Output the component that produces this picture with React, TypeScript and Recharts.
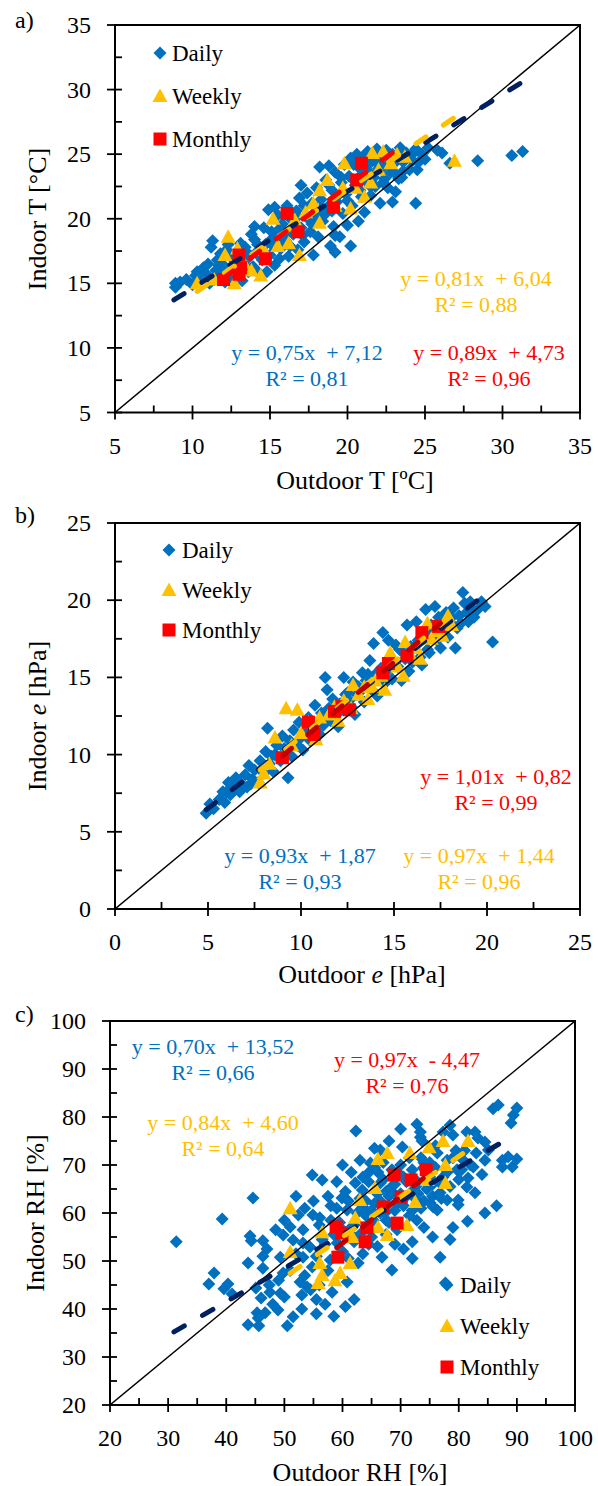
import React from 'react';
import { ScatterChart, Scatter, XAxis, YAxis, ReferenceArea } from 'recharts';

const FONT = '"Liberation Serif", "Times New Roman", serif';
const DAILY = '#0070C0';
const WEEKLY = '#FFC000';
const MONTHLY = '#FF0000';
const NAVY = '#002060';

type Pt = [number, number];

// ---------- a) temperature ----------
const ticksT = [5, 7.5, 10, 12.5, 15, 17.5, 20, 22.5, 25, 27.5, 30, 32.5, 35];
const majorT = [5, 10, 15, 20, 25, 30, 35];

const dailyT: Pt[] = [
  [8.9, 14.7], [8.9, 15.0], [9.2, 15.1], [9.6, 15.3], [10.0, 14.9], [10.2, 15.6], [10.3, 15.9], [10.5, 15.2],
  [10.7, 16.2], [10.9, 15.7], [11.0, 16.5], [11.1, 15.0], [11.2, 17.8], [11.3, 18.3], [11.4, 15.3], [11.5, 16.0],
  [11.6, 16.8], [11.7, 16.4], [11.8, 17.3], [11.9, 15.8], [12.0, 16.4], [12.1, 15.1], [12.2, 17.6], [12.3, 18.0],
  [12.4, 15.4], [12.5, 17.0], [12.6, 16.9], [12.7, 16.1], [12.8, 16.5], [12.9, 17.4], [13.0, 15.6], [13.1, 18.1],
  [13.2, 15.2], [13.2, 16.9], [13.3, 16.6], [13.4, 17.8], [13.5, 17.4], [13.6, 15.9], [13.7, 17.1], [13.8, 18.8],
  [13.9, 16.3], [14.0, 18.4], [14.0, 19.4], [14.1, 16.0], [14.2, 17.5], [14.2, 18.0], [14.3, 15.8], [14.4, 17.0],
  [14.5, 16.8], [14.6, 19.3], [14.7, 18.0], [14.8, 15.9], [14.9, 20.7], [15.0, 17.2], [15.0, 18.3], [15.1, 19.0],
  [15.2, 17.9], [15.3, 16.4], [15.3, 20.9], [15.4, 18.5], [15.5, 20.3], [15.6, 16.9], [15.6, 19.2], [15.7, 17.7],
  [15.8, 19.6], [15.9, 18.9], [16.0, 18.3], [16.0, 20.4], [16.1, 21.0], [16.2, 17.1], [16.2, 19.0], [16.3, 17.9],
  [16.4, 19.9], [16.5, 18.8], [16.6, 19.3], [16.7, 20.6], [16.8, 17.6], [16.8, 20.2], [16.9, 21.6], [17.0, 19.3],
  [17.0, 22.6], [17.1, 18.7], [17.2, 18.2], [17.2, 21.0], [17.3, 20.2], [17.4, 22.0], [17.5, 20.0], [17.6, 19.0],
  [17.7, 21.2], [17.7, 19.6], [17.8, 17.2], [17.9, 20.5], [18.0, 22.4], [18.0, 19.9], [18.1, 18.6], [18.2, 24.0],
  [18.3, 21.5], [18.3, 20.8], [18.4, 19.8], [18.5, 20.3], [18.6, 23.0], [18.7, 20.9], [18.8, 24.1], [18.8, 22.6],
  [18.9, 17.9], [19.0, 22.2], [19.0, 20.6], [19.1, 19.4], [19.1, 21.0], [19.2, 23.6], [19.2, 17.4], [19.2, 18.7],
  [19.3, 21.3], [19.4, 21.8], [19.5, 18.6], [19.6, 22.8], [19.6, 23.2], [19.7, 20.4], [19.8, 24.2], [19.9, 21.9],
  [20.0, 19.5], [20.0, 21.4], [20.1, 23.3], [20.2, 24.7], [20.2, 17.9], [20.3, 21.0], [20.4, 23.0], [20.4, 24.2],
  [20.5, 22.6], [20.6, 25.0], [20.7, 19.8], [20.8, 23.9], [20.8, 22.2], [20.9, 21.7], [20.9, 23.4], [21.0, 24.8],
  [21.1, 20.5], [21.2, 22.9], [21.2, 24.0], [21.3, 25.2], [21.4, 23.6], [21.5, 21.8], [21.5, 22.5], [21.6, 24.5],
  [21.7, 23.2], [21.8, 22.5], [21.9, 25.4], [21.9, 24.3], [22.0, 23.9], [22.1, 21.2], [22.2, 24.9], [22.3, 24.0],
  [22.3, 22.8], [22.4, 23.1], [22.5, 25.3], [22.6, 22.4], [22.7, 24.3], [22.7, 25.0], [22.8, 23.6], [22.9, 21.3],
  [22.9, 25.0], [23.0, 23.6], [23.1, 22.1], [23.1, 24.4], [23.2, 24.8], [23.3, 23.1], [23.4, 25.5], [23.5, 23.2],
  [23.6, 24.4], [23.6, 23.7], [23.8, 25.1], [24.0, 23.8], [24.1, 24.9], [24.2, 24.5], [24.4, 21.2], [24.4, 25.4],
  [24.5, 23.8], [24.6, 24.4], [24.8, 25.0], [25.0, 24.6], [25.2, 25.5], [25.8, 25.3], [26.1, 25.1], [26.6, 24.3],
  [28.4, 24.5], [30.6, 24.9], [31.3, 25.2],
];
const weeklyT: Pt[] = [
  [10.3, 15.0], [11.4, 15.3], [12.1, 17.2], [12.3, 18.6], [12.7, 15.0], [12.9, 17.7], [13.3, 16.6], [13.8, 16.0],
  [14.4, 15.6], [14.6, 17.6], [15.2, 20.0], [15.5, 17.9], [16.2, 18.1], [16.6, 19.9], [16.9, 17.2], [17.3, 20.5],
  [17.8, 21.2], [18.2, 22.2], [18.2, 19.7], [18.7, 23.0], [19.2, 21.0], [19.7, 22.4], [19.8, 24.3], [20.2, 20.8],
  [20.5, 22.4], [21.1, 21.7], [21.5, 22.8], [21.6, 25.1], [22.0, 23.8], [22.3, 25.2], [22.8, 24.3], [23.2, 25.0],
  [23.7, 24.8], [26.9, 24.5],
];
const monthlyT: Pt[] = [
  [12.0, 15.3], [13.0, 15.7], [13.1, 16.2], [13.0, 17.2], [14.7, 16.9], [16.1, 20.4], [16.8, 19.0], [19.1, 20.9],
  [20.6, 23.0], [20.9, 24.3],
];
// slope, intercept, x range
const fitsT = [
  { slope: 0.75, intercept: 7.12, from: 8.8, to: 31.5, color: NAVY },
  { slope: 0.81, intercept: 6.04, from: 10.3, to: 27.6, color: WEEKLY },
  { slope: 0.89, intercept: 4.73, from: 12.0, to: 23.7, color: MONTHLY },
];

// ---------- b) vapour pressure ----------
const ticksE = [0, 2.5, 5, 7.5, 10, 12.5, 15, 17.5, 20, 22.5, 25];
const majorE = [0, 5, 10, 15, 20, 25];

const dailyE: Pt[] = [
  [4.9, 6.2], [5.1, 6.8], [5.3, 6.5], [5.6, 7.1], [5.8, 7.6], [5.9, 6.9], [6.0, 7.6], [6.1, 8.2], [6.2, 7.4],
  [6.4, 7.9], [6.5, 8.5], [6.7, 7.6], [6.8, 8.1], [7.0, 8.7], [7.1, 7.9], [7.2, 9.3], [7.3, 8.1], [7.4, 8.4],
  [7.5, 9.0], [7.7, 8.2], [7.8, 9.6], [8.0, 8.8], [8.1, 10.2], [8.2, 11.7], [8.3, 9.4], [8.4, 9.9], [8.5, 8.9],
  [8.6, 10.0], [8.7, 10.6], [8.9, 9.6], [9.0, 11.2], [9.1, 10.4], [9.2, 10.0], [9.3, 8.5], [9.4, 10.9], [9.5, 9.9],
  [9.6, 11.6], [9.8, 10.6], [9.9, 12.1], [10.0, 11.1], [10.1, 10.3], [10.2, 11.5], [10.3, 11.8], [10.4, 12.4],
  [10.5, 10.9], [10.6, 11.4], [10.75, 13.2], [10.8, 12.0], [11.0, 11.3], [11.0, 12.2], [11.1, 12.7], [11.2, 11.9],
  [11.3, 15.0], [11.3, 12.4], [11.4, 14.2], [11.5, 13.0], [11.6, 12.2], [11.7, 13.6], [11.9, 12.6], [12.0, 11.8],
  [12.1, 13.3], [12.2, 12.9], [12.3, 15.0], [12.4, 12.9], [12.4, 13.9], [12.5, 14.0], [12.6, 13.5], [12.7, 13.1],
  [12.8, 14.7], [12.9, 12.6], [13.0, 13.9], [13.1, 14.4], [13.2, 14.1], [13.3, 15.3], [13.4, 13.4], [13.5, 14.8],
  [13.6, 15.2], [13.7, 16.1], [13.8, 14.2], [13.9, 17.2], [14.0, 15.2], [14.1, 13.8], [14.2, 14.9], [14.3, 15.6],
  [14.4, 17.9], [14.5, 14.6], [14.6, 15.4], [14.7, 17.4], [14.8, 16.0], [14.9, 14.9], [15.0, 15.9], [15.1, 17.1],
  [15.2, 15.7], [15.3, 16.8], [15.4, 14.8], [15.5, 16.6], [15.6, 16.2], [15.7, 18.4], [15.8, 15.4], [15.9, 17.0],
  [16.0, 16.0], [16.1, 17.0], [16.2, 18.6], [16.3, 17.4], [16.4, 16.3], [16.5, 15.8], [16.6, 17.9], [16.7, 19.4],
  [16.8, 16.8], [16.9, 16.6], [17.0, 18.4], [17.0, 17.6], [17.1, 17.9], [17.2, 19.6], [17.3, 17.4], [17.4, 18.9],
  [17.5, 16.9], [17.7, 18.0], [17.8, 19.2], [17.9, 17.6], [18.0, 18.6], [18.1, 18.9], [18.2, 19.5], [18.3, 16.9],
  [18.4, 18.2], [18.5, 19.0], [18.6, 18.5], [18.7, 20.5], [18.8, 19.8], [18.9, 19.2], [19.0, 18.6], [19.1, 19.9],
  [19.2, 19.4], [19.3, 18.9], [19.5, 19.4], [19.7, 19.9], [19.9, 19.6], [20.3, 17.3],
];
const weeklyE: Pt[] = [
  [7.8, 8.2], [8.0, 8.8], [8.3, 9.4], [8.6, 11.1], [9.2, 13.0], [9.8, 12.9], [9.0, 9.9], [9.5, 10.6], [10.0, 11.4],
  [10.4, 12.1], [10.8, 11.0], [11.0, 12.4], [11.5, 12.6], [11.8, 13.1], [12.0, 12.2], [12.3, 13.5], [12.7, 13.0],
  [12.8, 14.5], [13.1, 13.9], [13.4, 14.4], [13.6, 13.6], [13.8, 14.4], [14.0, 14.8], [14.3, 15.1], [14.5, 14.2],
  [14.8, 16.6], [15.2, 15.7], [15.5, 15.1], [15.6, 17.3], [15.9, 16.4], [16.2, 16.9], [16.4, 16.2], [16.8, 18.5],
  [17.0, 17.5], [17.3, 18.0], [17.6, 17.7], [17.9, 19.0], [18.1, 18.4],
];
const monthlyE: Pt[] = [
  [9.0, 9.8], [10.4, 12.1], [10.7, 11.3], [11.8, 12.8], [12.2, 13.1], [12.6, 12.9], [14.4, 15.3], [14.7, 15.9],
  [15.7, 16.4], [16.5, 17.9], [17.4, 18.3],
];
const fitsE = [
  { slope: 0.93, intercept: 1.87, from: 4.9, to: 19.8, color: NAVY },
  { slope: 0.97, intercept: 1.44, from: 7.8, to: 18.1, color: WEEKLY },
  { slope: 1.01, intercept: 0.82, from: 9.0, to: 17.5, color: '#C00000' },
];

// ---------- c) relative humidity ----------
const ticksRH = [20, 25, 30, 35, 40, 45, 50, 55, 60, 65, 70, 75, 80, 85, 90, 95, 100];
const majorRH = [20, 30, 40, 50, 60, 70, 80, 90, 100];

const dailyRH: Pt[] = [
  [31.4, 54.0], [37.0, 45.2], [37.9, 47.5], [39.3, 58.75], [39.6, 44.2], [40.3, 45.2], [41.0, 43.1], [43.75, 36.7],
  [43.75, 49.6], [44.1, 55.2], [44.3, 54.2], [44.6, 63.1], [45.1, 44.4], [45.3, 39.2], [45.5, 38.1], [45.6, 36.5],
  [46.0, 42.3], [46.3, 54.2], [46.3, 51.0], [46.3, 48.5], [46.7, 39.2], [47.0, 52.5], [47.4, 45.0], [47.5, 43.5],
  [48.0, 41.0], [48.5, 56.5], [48.9, 39.8], [49.0, 46.0], [49.3, 43.3], [49.3, 50.8], [49.8, 55.4], [49.8, 47.5],
  [50.0, 42.5], [50.0, 58.5], [50.5, 36.5], [51.0, 57.1], [51.0, 48.0], [51.5, 54.4], [51.5, 38.4], [52.0, 51.5],
  [52.0, 63.5], [52.4, 59.6], [52.7, 45.6], [53.0, 42.9], [53.0, 40.0], [53.2, 56.5], [53.2, 53.75], [53.2, 50.8],
  [53.5, 61.0], [53.5, 47.0], [53.9, 44.6], [54.4, 52.9], [54.5, 44.0], [54.8, 67.9], [54.8, 48.75], [54.9, 59.6],
  [55.0, 62.5], [55.5, 39.0], [55.5, 51.0], [55.5, 42.0], [56.0, 57.5], [56.0, 45.0], [56.1, 59.0], [56.5, 66.9],
  [56.5, 54.5], [57.0, 41.0], [57.0, 53.5], [57.5, 63.5], [57.5, 48.0], [57.9, 50.2], [58.0, 61.5], [58.0, 58.5],
  [58.2, 43.5], [58.5, 38.5], [58.5, 55.5], [59.0, 66.5], [59.0, 61.0], [59.1, 53.75], [59.5, 58.0], [59.9, 63.1],
  [60.0, 52.0], [60.0, 70.0], [60.0, 56.5], [60.5, 40.5], [60.5, 64.5], [60.8, 60.6], [60.8, 45.6], [61.0, 50.5],
  [61.0, 62.5], [61.3, 55.8], [61.5, 57.0], [61.5, 68.5], [62.0, 42.0], [62.0, 54.0], [62.0, 57.5], [62.2, 66.25],
  [62.3, 77.1], [62.5, 60.0], [62.7, 49.6], [63.0, 63.0], [63.0, 71.0], [63.0, 55.5], [63.4, 64.8], [63.5, 61.25],
  [63.5, 51.5], [63.5, 67.5], [64.0, 59.5], [64.0, 62.5], [64.4, 68.3], [64.5, 66.5], [64.5, 53.5], [64.8, 70.4],
  [65.0, 55.0], [65.0, 60.5], [65.3, 58.5], [65.5, 62.0], [65.5, 73.5], [65.5, 69.5], [66.0, 64.0], [66.0, 53.0],
  [66.1, 68.5], [66.5, 73.1], [66.5, 66.25], [66.5, 60.0], [66.5, 62.5], [66.8, 50.8], [67.0, 67.0], [67.0, 70.5],
  [67.3, 60.0], [67.5, 58.5], [67.5, 55.5], [67.5, 64.5], [68.0, 63.5], [68.0, 75.0], [68.0, 58.0], [68.5, 65.5],
  [68.5, 48.1], [68.5, 69.0], [69.0, 60.5], [69.0, 53.5], [69.0, 66.0], [69.1, 63.75], [69.4, 56.5], [69.5, 68.5],
  [69.5, 62.0], [70.0, 64.0], [70.0, 77.5], [70.0, 70.0], [70.3, 73.75], [70.5, 61.5], [70.5, 52.5], [70.5, 67.5],
  [71.0, 66.5], [71.0, 63.5], [71.5, 59.5], [71.5, 71.5], [72.0, 69.0], [72.0, 54.0], [72.0, 50.5], [72.0, 60.5],
  [72.2, 64.8], [72.5, 63.0], [72.5, 67.0], [72.8, 78.5], [72.8, 58.5], [73.0, 66.0], [73.0, 64.0], [73.4, 76.9],
  [73.4, 75.8], [73.5, 61.0], [73.5, 71.5], [73.7, 75.0], [73.9, 69.4], [74.0, 70.5], [74.0, 57.0], [74.0, 62.5],
  [74.5, 65.0], [74.5, 68.0], [75.0, 67.5], [75.0, 70.5], [75.1, 62.1], [75.5, 63.5], [75.5, 55.0], [75.5, 66.0],
  [75.6, 61.25], [76.0, 69.5], [76.0, 74.0], [76.3, 72.5], [76.3, 60.6], [76.8, 64.2], [76.8, 50.8], [77.0, 66.0],
  [77.0, 63.0], [77.3, 76.9], [77.3, 67.5], [77.7, 45.4], [78.0, 68.5], [78.0, 62.7], [78.0, 71.0], [78.5, 78.3],
  [78.5, 54.5], [78.5, 65.5], [79.0, 76.25], [79.0, 71.5], [79.0, 57.0], [79.5, 73.0], [79.7, 69.0], [79.9, 62.7],
  [79.9, 61.7], [80.0, 67.0], [80.5, 69.0], [80.8, 71.0], [81.0, 73.0], [81.4, 76.9], [81.4, 65.4], [81.5, 58.3],
  [81.6, 67.3], [82.0, 70.0], [82.5, 69.6], [82.8, 76.9], [82.8, 64.2], [83.0, 72.5], [83.3, 75.6], [84.0, 68.0],
  [84.5, 74.8], [84.5, 71.0], [84.5, 60.0], [85.1, 73.1], [85.9, 81.7], [86.5, 61.5], [86.8, 82.5], [87.5, 71.0],
  [87.5, 69.6], [88.5, 71.7], [89.0, 78.75], [89.2, 69.6], [89.4, 80.4], [90.0, 81.9], [90.0, 71.25],
];
const weeklyRH: Pt[] = [
  [51.0, 61.0], [51.0, 51.9], [55.8, 45.4], [56.1, 49.6], [56.5, 47.1], [56.5, 56.0], [58.7, 46.0], [59.6, 47.5],
  [61.3, 49.6], [61.7, 55.0], [62.2, 59.0], [63.0, 62.7], [65.6, 65.2], [66.1, 57.1], [66.1, 71.25], [67.7, 72.5],
  [67.7, 55.4], [71.1, 57.5], [71.6, 72.5], [72.5, 62.3], [74.6, 66.9], [74.9, 73.7], [77.3, 75.0], [77.7, 70.0],
  [77.7, 66.25], [81.6, 75.0],
];
const monthlyRH: Pt[] = [
  [58.9, 57.1], [59.2, 50.8], [59.9, 55.8], [63.9, 54.0], [64.2, 56.9], [67.0, 61.25], [68.9, 67.9], [69.4, 57.9],
  [70.1, 63.3], [71.8, 66.9], [74.4, 69.0],
];
const fitsRH = [
  { slope: 0.70, intercept: 13.52, from: 31.0, to: 88.0, color: NAVY },
  { slope: 0.84, intercept: 4.6, from: 51.0, to: 81.6, color: WEEKLY },
  { slope: 0.97, intercept: -4.47, from: 59.0, to: 74.5, color: '#C00000' },
];

// ---------- marker shapes ----------
const diamond = (cx: number, cy: number) =>
  `M${cx},${cy - 6.5}L${cx + 6.5},${cy}L${cx},${cy + 6.5}L${cx - 6.5},${cy}Z`;
const triangle = (cx: number, cy: number) =>
  `M${cx},${cy - 7.5}L${cx + 7.5},${cy + 6}L${cx - 7.5},${cy + 6}Z`;
const square = (cx: number, cy: number) =>
  `M${cx - 6.5},${cy - 6.5}h13v13h-13Z`;

const DiamondShape = (p: any) => <path d={diamond(p.cx, p.cy)} fill={DAILY} />;
const TriangleShape = (p: any) => <path d={triangle(p.cx, p.cy)} fill={WEEKLY} />;
const SquareShape = (p: any) => <path d={square(p.cx, p.cy)} fill={MONTHLY} />;
const NoShape = () => <g />;

const toData = (pts: Pt[]) => pts.map(([x, y]) => ({ x, y }));

const XTick = (p: any) => {
  const { x, y, payload, major } = p;
  const isMajor = major.includes(payload.value);
  return (
    <g>
      <line x1={x} x2={x} y1={y - 7} y2={isMajor ? y + 7 : y} stroke="#000" strokeWidth={1.8} />
      {isMajor && (
        <text x={x} y={y + 41} textAnchor="middle" fontSize={24} fontFamily={FONT} fill="#000">
          {payload.value}
        </text>
      )}
    </g>
  );
};

const YTick = (p: any) => {
  const { x, y, payload, major } = p;
  const isMajor = major.includes(payload.value);
  return (
    <g>
      <line x1={isMajor ? x - 8 : x} x2={x + 7} y1={y} y2={y} stroke="#000" strokeWidth={1.8} />
      {isMajor && (
        <text x={x - 24} y={y + 8} textAnchor="end" fontSize={24} fontFamily={FONT} fill="#000">
          {payload.value}
        </text>
      )}
    </g>
  );
};

interface PanelProps {
  top: number;
  height: number;
  left: number;
  right: number;
  plotTop: number;
  plotBottom: number;
  domain: [number, number];
  ticks: number[];
  major: number[];
  daily: Pt[];
  weekly: Pt[];
  monthly: Pt[];
  fits: { slope: number; intercept: number; from: number; to: number; color: string }[];
}

const Panel: React.FC<PanelProps> = ({ top, height, left, right, plotTop, plotBottom, domain, ticks, major, daily, weekly, monthly, fits }) => {
  const [lo, hi] = domain;
  return (
    <div style={{ position: 'absolute', left: 0, top, width: 598, height }}>
      <ScatterChart
        width={598}
        height={height}
        margin={{ top: plotTop, right: 598 - right, bottom: height - plotBottom - 50, left: 0 }}
      >
        <XAxis
          type="number"
          dataKey="x"
          domain={domain}
          ticks={ticks}
          interval={0}
          height={50}
          tickSize={0}
          tickMargin={0}
          axisLine={false}
          tickLine={false}
          allowDataOverflow
          tick={(props: any) => <XTick {...props} major={major} />}
        />
        <YAxis
          type="number"
          dataKey="y"
          domain={domain}
          ticks={ticks}
          interval={0}
          width={left}
          tickSize={0}
          tickMargin={0}
          axisLine={false}
          tickLine={false}
          allowDataOverflow
          tick={(props: any) => <YTick {...props} major={major} />}
        />
        <ReferenceArea x1={lo} x2={hi} y1={lo} y2={hi} fill="#fff" fillOpacity={0} stroke="#000" strokeWidth={2} />
        <Scatter data={toData(daily)} shape={DiamondShape} isAnimationActive={false} />
        <Scatter data={toData(weekly)} shape={TriangleShape} isAnimationActive={false} />
        <Scatter data={toData(monthly)} shape={SquareShape} isAnimationActive={false} />
        <Scatter
          data={[{ x: lo, y: lo }, { x: hi, y: hi }]}
          shape={NoShape}
          line={{ stroke: '#000', strokeWidth: 1.4 }}
          isAnimationActive={false}
        />
        {fits.map((f, i) => (
          <Scatter
            key={i}
            data={[
              { x: f.from, y: f.slope * f.from + f.intercept },
              { x: f.to, y: f.slope * f.to + f.intercept },
            ]}
            shape={NoShape}
            line={{ stroke: f.color, strokeWidth: 5, strokeDasharray: '12 21', strokeLinecap: 'round' }}
            isAnimationActive={false}
          />
        ))}
      </ScatterChart>
    </div>
  );
};

const T = (props: any) => <text fontFamily={FONT} fill="#000" {...props} style={{ whiteSpace: 'pre' }} />;

const Legend = ({ x, tx, ys }: { x: number; tx: number; ys: number[] }) => (
  <g>
    <path d={diamond(x, ys[0] - 8)} fill={DAILY} />
    <T x={tx} y={ys[0]} fontSize={23}>Daily</T>
    <path d={triangle(x, ys[1] - 8)} fill={WEEKLY} />
    <T x={tx} y={ys[1]} fontSize={23}>Weekly</T>
    <path d={square(x, ys[2] - 8)} fill={MONTHLY} />
    <T x={tx} y={ys[2]} fontSize={23}>Monthly</T>
  </g>
);

const Eq = ({ x, y, color, eq, r2 }: { x: number; y: number; color: string; eq: string; r2: string }) => (
  <g>
    <T x={x} y={y} fontSize={22} fill={color} textAnchor="middle">{eq}</T>
    <T x={x} y={y + 26} fontSize={22} fill={color} textAnchor="middle">{r2}</T>
  </g>
);

export default function App() {
  return (
    <div style={{ position: 'absolute', left: 0, top: 0, width: 598, height: 1486, background: '#fff', overflow: 'hidden' }}>
      <Panel top={0} height={500} left={115} right={580} plotTop={25} plotBottom={412.5}
        domain={[5, 35]} ticks={ticksT} major={majorT} daily={dailyT} weekly={weeklyT} monthly={monthlyT} fits={fitsT} />
      <Panel top={500} height={495} left={115} right={580} plotTop={23} plotBottom={409}
        domain={[0, 25]} ticks={ticksE} major={majorE} daily={dailyE} weekly={weeklyE} monthly={monthlyE} fits={fitsE} />
      <Panel top={995} height={491} left={110} right={575} plotTop={26} plotBottom={410}
        domain={[20, 100]} ticks={ticksRH} major={majorRH} daily={dailyRH} weekly={weeklyRH} monthly={monthlyRH} fits={fitsRH} />

      <svg width={598} height={1486} style={{ position: 'absolute', left: 0, top: 0, pointerEvents: 'none' }}>
        {/* panel letters */}
        <T x={15} y={28} fontSize={24}>a)</T>
        <T x={15} y={523} fontSize={24}>b)</T>
        <T x={15} y={1022} fontSize={24}>c)</T>

        {/* axis titles */}
        <T x={355} y={489} fontSize={26} textAnchor="middle">Outdoor T [ºC]</T>
        <T x={362} y={983} fontSize={26} textAnchor="middle">Outdoor <tspan fontStyle="italic">e</tspan> [hPa]</T>
        <T x={360} y={1481} fontSize={26} textAnchor="middle">Outdoor RH [%]</T>
        <T transform="translate(46,219) rotate(-90)" fontSize={26} textAnchor="middle">Indoor T [°C]</T>
        <T transform="translate(46,716) rotate(-90)" fontSize={26} textAnchor="middle">Indoor <tspan fontStyle="italic">e</tspan> [hPa]</T>
        <T transform="translate(44,1213) rotate(-90)" fontSize={26} textAnchor="middle">Indoor RH [%]</T>

        {/* legends */}
        <Legend x={160} tx={172} ys={[61, 104, 147]} />
        <Legend x={169} tx={182} ys={[558, 598, 638]} />
        <Legend x={447} tx={460} ys={[1293, 1334, 1375]} />

        {/* equations a */}
        <Eq x={476} y={286} color={WEEKLY} eq="y = 0,81x  + 6,04" r2="R² = 0,88" />
        <Eq x={307} y={360} color={DAILY} eq="y = 0,75x  + 7,12" r2="R² = 0,81" />
        <Eq x={489} y={360} color={MONTHLY} eq="y = 0,89x  + 4,73" r2="R² = 0,96" />
        {/* equations b */}
        <Eq x={496} y={784} color={MONTHLY} eq="y = 1,01x  + 0,82" r2="R² = 0,99" />
        <Eq x={300} y={863} color={DAILY} eq="y = 0,93x  + 1,87" r2="R² = 0,93" />
        <Eq x={479} y={863} color={WEEKLY} eq="y = 0,97x  + 1,44" r2="R² = 0,96" />
        {/* equations c */}
        <Eq x={213} y={1054} color={DAILY} eq="y = 0,70x  + 13,52" r2="R² = 0,66" />
        <Eq x={407} y={1067} color={MONTHLY} eq="y = 0,97x  - 4,47" r2="R² = 0,76" />
        <Eq x={223} y={1130} color={WEEKLY} eq="y = 0,84x  + 4,60" r2="R² = 0,64" />
      </svg>
    </div>
  );
}
